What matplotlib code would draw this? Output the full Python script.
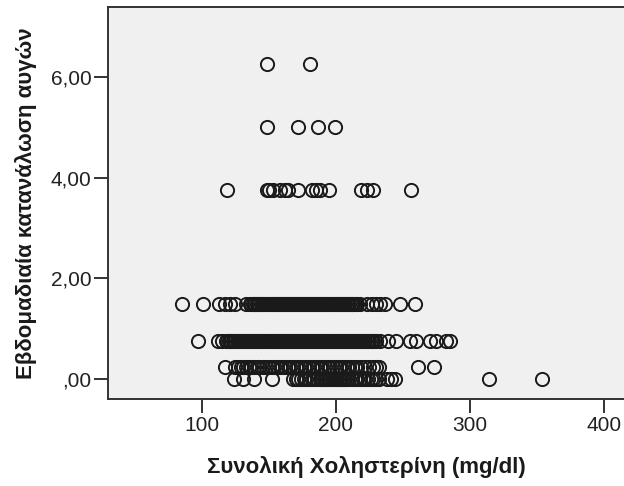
import matplotlib
matplotlib.use("Agg")
import matplotlib.pyplot as plt

# ---- data ----
x_625 = [148.5, 181]
x_500 = [148.5, 172, 187, 199.5]
x_375 = [119, 149, 150, 153, 158, 162, 164, 172, 182, 185, 188, 195, 219, 223, 228, 256]
x_150 = [85, 101, 113, 117, 121, 125, 133, 136, 137, 138, 139, 140, 141, 142, 143, 144,
         145, 146, 147, 148, 149, 150, 151, 152, 153, 154, 155, 156, 157, 158, 159, 160,
         161, 162, 163, 164, 165, 166, 167, 168, 169, 170, 171, 172, 173, 174, 175, 176,
         177, 178, 179, 180, 181, 182, 183, 184, 185, 186, 187, 188, 189, 190, 191, 192,
         193, 194, 195, 196, 197, 198, 199, 200, 201, 202, 203, 204, 205, 206, 207, 208,
         209, 210, 211, 212, 213, 214, 215, 216, 218, 223, 227, 230, 233, 237, 248, 259]
x_075 = [97, 112, 115, 118, 119, 120, 121, 122, 123, 124, 125, 126, 127, 128, 129, 130,
         131, 132, 133, 134, 135, 136, 137, 138, 139, 140, 141, 142, 143, 144, 145, 146,
         147, 148, 149, 150, 151, 152, 153, 154, 155, 156, 157, 158, 159, 160, 161, 162,
         163, 164, 165, 166, 167, 168, 169, 170, 171, 172, 173, 174, 175, 176, 177, 178,
         179, 180, 181, 182, 183, 184, 185, 186, 187, 188, 189, 190, 191, 192, 193, 194,
         195, 196, 197, 198, 199, 200, 201, 202, 203, 204, 205, 206, 207, 208, 209, 210,
         211, 212, 213, 214, 215, 216, 217, 218, 219, 220, 221, 222, 223, 224, 225, 226,
         227, 228, 229, 230, 233, 239, 245, 255, 260, 270, 275, 282, 285]
x_025 = [117, 125, 127, 129, 131, 133, 135, 137, 139, 141, 143, 146, 148, 150, 152, 154,
         156, 158, 160, 162, 164, 166, 168, 170, 172, 174, 176, 178, 180, 182, 184, 186,
         188, 190, 192, 194, 196, 198, 200, 202, 204, 206, 208, 210, 212, 214, 216, 219,
         222, 225, 228, 230, 232, 261, 273]
x_000 = [124, 131, 139, 152, 168, 170, 172, 174, 176, 178, 180, 182, 184, 186, 188, 189,
         190, 191, 192, 193, 194, 195, 196, 197, 198, 199, 200, 201, 202, 203, 204, 205,
         206, 207, 208, 210, 212, 214, 216, 218, 220, 222, 224, 226, 228, 230, 232, 238,
         241, 244, 314, 354]
levels = [6.25, 5.0, 3.75, 1.5, 0.75, 0.25, 0.0]
groups = [x_625, x_500, x_375, x_150, x_075, x_025, x_000]

xticks = [100, 200, 300, 400]
yticks = [0, 2, 4, 6]
ytick_labels = [",00", "2,00", "4,00", "6,00"]
xlabel = "Συνολική Χοληστερίνη (mg/dl)"
ylabel = "Εβδομαδιαία κατανάλωση αυγών"

plt.rcParams['font.family'] = ['Liberation Sans', 'DejaVu Sans']

fig = plt.figure(figsize=(6.24, 4.86), dpi=100)
ax = fig.add_axes([108 / 624, 1 - 399 / 486, 1 - 108 / 624, (399 - 7) / 486])
ax.set_facecolor('#f0f0f0')

for lvl, xs in zip(levels, groups):
    ax.plot(xs, [lvl] * len(xs), linestyle='none', marker='o', markersize=9.5,
            markerfacecolor='none', markeredgecolor='#1a1a1a', markeredgewidth=1.4)

ax.set_xlim(30, 415)
ax.set_ylim(-0.39, 7.38)
ax.set_xticks(xticks)
ax.set_xticklabels([str(t) for t in xticks])
ax.set_yticks(yticks)
ax.set_yticklabels(ytick_labels)

for s in ['left', 'bottom', 'top']:
    ax.spines[s].set_color('#333333')
    ax.spines[s].set_linewidth(1.4)
ax.spines['right'].set_visible(False)

ax.tick_params(axis='both', direction='out', length=10, width=1.4, color='#333333',
               labelsize=15, labelcolor='#222222', pad=2)

ax.set_xlabel(xlabel, fontsize=16, fontweight='bold', color='#1a1a1a', labelpad=15)
ax.set_ylabel(ylabel, fontsize=16, fontweight='bold', color='#1a1a1a', labelpad=10)

fig.savefig('out.png', dpi=100, facecolor='white')
